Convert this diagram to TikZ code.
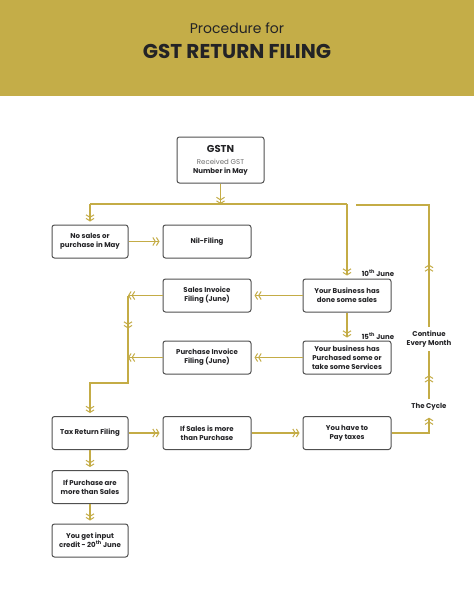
\documentclass[tikz,border=0pt]{standalone}
\usepackage{fontspec}
\setmainfont{Poppins}
\usetikzlibrary{arrows.meta,decorations.markings}
\definecolor{gold}{RGB}{196,172,70}
\definecolor{band}{RGB}{196,173,72}
\definecolor{boxgray}{RGB}{80,80,80}
\definecolor{ink}{RGB}{35,35,38}
\definecolor{soft}{RGB}{110,110,110}
\tikzset{
  box/.style={draw=boxgray, line width=1pt, rounded corners=2.5pt, fill=white,
    align=center, text=ink, font=\fontsize{7}{9}\selectfont\bfseries,
    inner sep=1pt, minimum height=33pt},
  widebox/.style={box, minimum width=88pt},
  narrowbox/.style={box, minimum width=76pt},
  flow/.style={draw=gold, line width=1.3pt},
  chevtip/.tip={Straight Barb[length=2.5pt,width=8pt,line width=1pt] Straight Barb[length=2.5pt,width=8pt,line width=1pt]},
  chev/.style={-{chevtip}},
  gap/.style={shorten >=3pt},
  midchev/.style={postaction={decorate}, decoration={markings,
    mark=at position #1 with {\arrow[gold]{chevtip}}}},
  lbl/.style={text=ink, font=\fontsize{7}{9}\selectfont\bfseries, align=center, inner sep=1pt},
}
\begin{document}
\begin{tikzpicture}[x=1pt,y=-1pt]
\useasboundingbox (0,0) rectangle (474,607);
\fill[white] (0,0) rectangle (474,607);
\fill[band] (0,0) rectangle (474,96);
\node[text=ink, font=\fontsize{14}{16}\selectfont] (t1) at (237,28) {Procedure for};
\node[text=ink, font=\fontsize{20}{22}\selectfont\bfseries] (t2) at (237,51) {GST RETURN FILING};

\node[box, minimum width=87pt, minimum height=46pt] (gstn) at (220.5,160)
  {{\fontsize{10}{12}\selectfont GSTN}\\[3pt]{\mdseries\color{soft}Received GST}\\Number in May};
\node[narrowbox] (nosales) at (90,241.5) {No sales or\\purchase in May};
\node[widebox] (nil) at (207,241.5) {Nil-Filing};
\node[widebox] (sinv) at (207,295.5) {Sales Invoice\\Filing (June)};
\node[widebox] (ybus) at (347,295.5) {Your Business has\\done some sales};
\node[widebox] (pinv) at (207,357.5) {Purchase Invoice\\Filing (June)};
\node[widebox] (ypur) at (347,357.5) {Your business has\\Purchased some or\\take some Services};
\node[narrowbox] (tax) at (90,433) {Tax Return Filing};
\node[widebox] (ifsales) at (207,433) {If Sales is more\\than Purchase};
\node[widebox] (pay) at (347,433) {You have to\\Pay taxes};
\node[narrowbox] (ifpur) at (90,487) {If Purchase are\\more than Sales};
\node[narrowbox] (credit) at (90,540.5) {You get input\\credit - 20\textsuperscript{th} June};

\node[lbl] (d10) at (378,273) {10\textsuperscript{th} June};
\node[lbl] (d15) at (378,336.5) {15\textsuperscript{th} June};
\node[lbl, inner ysep=4pt] (cycle) at (429,407) {The Cycle};
\node[lbl, inner ysep=4pt] (cont) at (429,339) {Continue\\Every Month};

\coordinate (j0) at (220.5,204);
\coordinate (jl) at (90,204);
\coordinate (jr) at (347,204);
\coordinate (sl) at (128,295.5);
\coordinate (pl) at (128,357.5);
\coordinate (sb) at (128,383);
\coordinate (tb) at (90,383);
\coordinate (cytop) at (429,205);
\coordinate (cyend) at (356,205);

\draw[flow,chev] (gstn.south) -- (j0);
\draw[flow] (jl) -- (jr);
\draw[flow,chev,gap] (jl) -- (nosales.north);
\draw[flow,chev,gap] (jr) -- (ybus.north);
\draw[flow,chev,gap] (nosales.east) -- (nil.west);
\draw[flow,chev,gap] (ybus.west) -- (sinv.east);
\draw[flow,chev,gap] (ybus.south) -- (ypur.north);
\draw[flow,chev,gap] (ypur.west) -- (pinv.east);
\draw[flow,chev] (sinv.west) -- (sl);
\draw[flow,chev] (pinv.west) -- (pl);
\draw[flow,chev,gap,midchev=33pt] (sl) -- (sb) -- (tb) -- (tax.north);
\draw[flow,chev,gap] (tax.east) -- (ifsales.west);
\draw[flow,chev,gap] (ifsales.east) -- (pay.west);
\draw[flow,chev,gap] (tax.south) -- (ifpur.north);
\draw[flow,chev,gap] (ifpur.south) -- (credit.north);
\draw[flow,chev,gap] (pay.east) -| (cycle.south);
\draw[flow,midchev=0.5] (cycle.north) -- (cont.south);
\draw[flow,midchev=62pt] (cont.north) -- (cytop) -- (cyend);
\end{tikzpicture}
\end{document}
